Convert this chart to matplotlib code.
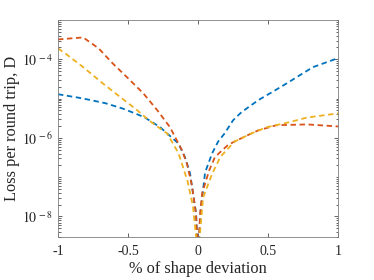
import math

import matplotlib

matplotlib.use("Agg")

import matplotlib.pyplot as plt
from matplotlib.ticker import LogLocator, FuncFormatter, NullFormatter

plt.rcParams["font.family"] = ["Liberation Serif", "DejaVu Serif"]
plt.rcParams["mathtext.fontset"] = "stix"

# Values (x in %, D per round trip)
blue_x = [-1, -0.83, -0.66, -0.54, -0.45, -0.38, -0.27, -0.21, -0.14, -0.093, -0.057, -0.036, -0.014, 0,
          0.02, 0.05, 0.1, 0.143, 0.19, 0.25, 0.31, 0.43, 0.55, 0.63, 0.82, 1]
blue_d = [1.29e-5, 1.02e-5, 7.6e-6, 5.6e-6, 4.2e-6, 3.3e-6, 1.86e-6, 1.2e-6, 7.2e-7, 3.2e-7, 1.25e-7, 3.9e-8, 1.2e-8, 1e-9,
          1.5e-8, 1.3e-7, 4.0e-7, 8.0e-7, 1.3e-6, 2.8e-6, 4.5e-6, 9.1e-6, 1.62e-5, 2.4e-5, 6.3e-5, 1.07e-4]

red_x = [-1, -0.82, -0.71, -0.61, -0.5, -0.39, -0.29, -0.2, -0.114, -0.079, -0.043, -0.015, 0,
         0.015, 0.03, 0.08, 0.12, 0.157, 0.21, 0.25, 0.35, 0.43, 0.56, 0.78, 1]
red_d = [3.2e-4, 3.6e-4, 1.9e-4, 7.9e-5, 3.3e-5, 1.35e-5, 5.0e-6, 1.86e-6, 4.8e-7, 2.2e-7, 6.0e-8, 1.2e-8, 1e-9,
         1.2e-8, 4.0e-8, 1.5e-7, 3.2e-7, 4.3e-7, 6.4e-7, 7.7e-7, 1.15e-6, 1.55e-6, 2.1e-6, 2.2e-6, 1.95e-6]

yellow_x = [-1, -0.93, -0.81, -0.69, -0.57, -0.45, -0.33, -0.22, -0.14, -0.075, -0.036, 0,
            0.036, 0.1, 0.16, 0.26, 0.38, 0.49, 0.64, 0.78, 1]
yellow_d = [1.9e-4, 1.26e-4, 5.9e-5, 2.6e-5, 1.2e-5, 5.6e-6, 2.45e-6, 1.29e-6, 4.1e-7, 8.0e-8, 1.8e-8, 1e-9,
            3.0e-8, 1.2e-7, 3.3e-7, 8.0e-7, 1.29e-6, 1.86e-6, 2.45e-6, 3.3e-6, 4.2e-6]

x_ticks = [-1, -0.5, 0, 0.5, 1]
x_labels = ["-1", "-0.5", "0", "0.5", "1"]

fig = plt.figure(figsize=(3.74, 2.80), dpi=100)
ax = fig.add_axes([0.155, 0.1536, 0.749, 0.775])

dash = (0, (3, 2))
ax.plot(blue_x, blue_d, color="#0072BD", lw=1.3, linestyle=dash)
ax.plot(red_x, red_d, color="#D95319", lw=1.3, linestyle=dash)
ax.plot(yellow_x, yellow_d, color="#EDB120", lw=1.3, linestyle=dash)

ax.set_yscale("log")
ax.set_xlim(-1, 1)
ax.set_ylim(3e-9, 1e-3)

ax.set_xticks(x_ticks)
ax.set_xticklabels(x_labels)
ax.yaxis.set_major_locator(LogLocator(base=100, numticks=10))
ax.yaxis.set_minor_locator(LogLocator(base=10, subs=range(1, 10), numticks=20))
ax.yaxis.set_minor_formatter(NullFormatter())
ax.yaxis.set_major_formatter(FuncFormatter(
    lambda v, pos: r"$10^{\,%d}$" % round(math.log10(v))))

ax.tick_params(which="both", direction="in", top=True, right=True,
               colors="#262626", labelsize=10, width=0.5)
ax.tick_params(which="major", length=3)
ax.tick_params(which="minor", length=1.8)
ax.tick_params(axis="x", pad=6)
for s in ax.spines.values():
    s.set_color("#7f7f7f")
    s.set_linewidth(0.6)

ax.set_xlabel("% of shape deviation", fontsize=11.8, color="#262626", labelpad=2)
ax.set_ylabel("Loss per round trip, D", fontsize=11.8, color="#262626", labelpad=1)

fig.savefig("out.png", dpi=100)
